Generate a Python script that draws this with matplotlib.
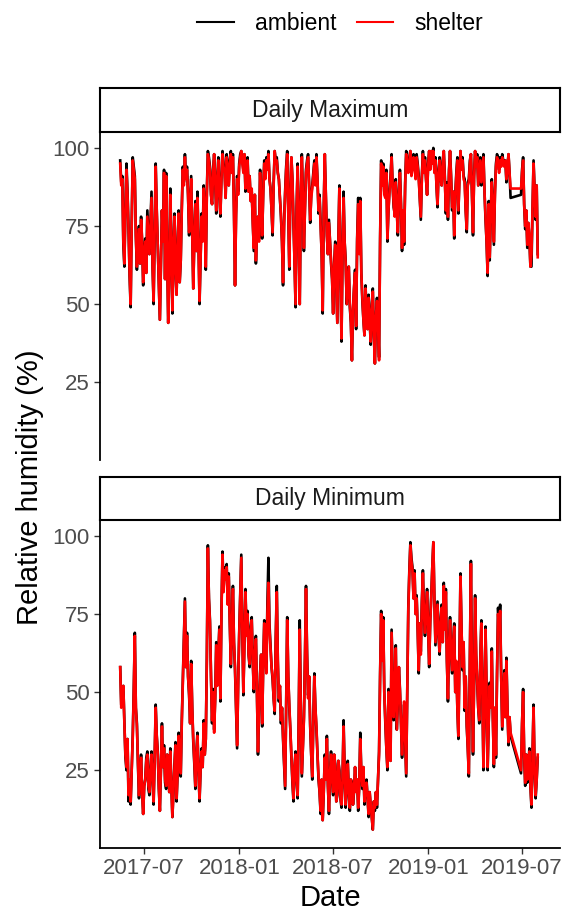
import numpy as np
import pandas as pd
import matplotlib
matplotlib.use("Agg")
import matplotlib.pyplot as plt
import matplotlib.dates as mdates

nan = np.nan

# readings every ~2 days
dates = pd.date_range("2017-05-16", "2019-07-31", periods=401)

max_shelter = [
    95, 88, 90, 70, 63, 80, 93, 85, 74, 60,
    50, 75, 96, 93, 90, 72, 62, 69, 74, 63,
    77, 70, 57, 66, 70, 60, 78, 72, 66, 75,
    84, 62, 51, 72, 94, 80, 68, 55, 45, 62,
    80, 70, 92, 58, 91, 66, 44, 60, 85, 70,
    48, 66, 78, 61, 53, 68, 79, 57, 64, 80,
    93, 88, 97, 90, 93, 85, 73, 81, 90, 72,
    55, 70, 82, 67, 84, 70, 51, 65, 78, 70,
    87, 80, 62, 85, 98, 96, 93, 85, 82, 92,
    98, 90, 80, 88, 96, 85, 79, 90, 98, 94,
    92, 84, 97, 93, 88, 95, 98, 92, 97, 80,
    56, 78, 90, 85, 94, 97, 99, 95, 92, 98,
    87, 92, 96, 86, 91, 83, 87, 76, 68, 85,
    64, 72, 78, 70, 92, 83, 72, 85, 95, 90,
    96, 93, 98, 90, 87, 80, 73, 88, 99, 95,
    96, 92, 90, 84, 79, 70, 57, 75, 85, 93,
    98, 80, 62, 85, 97, 90, 77, 65, 50, 80,
    94, 72, 50, 82, 97, 85, 68, 80, 92, 95,
    97, 88, 77, 84, 87, 91, 95, 88, 97, 90,
    80, 84, 75, 66, 48, 80, 98, 85, 72, 66,
    76, 70, 64, 58, 47, 62, 69, 57, 44, 70,
    87, 60, 39, 66, 84, 70, 63, 50, 56, 62,
    50, 44, 32, 48, 55, 60, 43, 70, 82, 66,
    83, 60, 52, 45, 40, 55, 47, 42, 52, 45,
    38, 48, 54, 40, 31, 46, 51, 44, 32, 70,
    95, 88, 94, 85, 84, 92, 71, 80, 86, 90,
    97, 88, 82, 78, 89, 80, 73, 85, 92, 82,
    68, 80, 70, 88, 98, 94, 92, 96, 99, 91,
    93, 97, 95, 90, 97, 94, 90, 84, 78, 90,
    98, 92, 96, 90, 85, 94, 99, 93, 99, 95,
    99, 92, 96, 88, 82, 92, 96, 90, 88, 95,
    99, 90, 80, 88, 78, 92, 99, 90, 81, 86,
    72, 84, 91, 96, 80, 90, 99, 93, 96, 90,
    89, 80, 74, 88, 89, 95, 98, 85, 73, 90,
    99, 94, 97, 88, 92, 96, 89, 93, 97, 86,
    78, 70, 60, 82, 65, 78, 89, 80, 70, 85,
    94, 97, 96, 92, 96, 94, 97, 95, 94, 96,
    90, 93, 98, 92, 87, nan, nan, nan, nan, nan,
    nan, nan, nan, nan, 87, 92, 96, 82, 75, 80,
    69, 76, 72, 62, 66, 80, 95, 86, 78, 88,
    65,
]
max_ambient = [
    96, 89, 91, 69, 62, 81, 95, 86, 74, 59,
    49, 76, 97, 94, 91, 72, 61, 70, 75, 63,
    78, 70, 56, 67, 71, 60, 80, 73, 66, 76,
    86, 62, 50, 73, 95, 80, 68, 55, 45, 62,
    80, 71, 93, 58, 92, 66, 44, 61, 87, 70,
    47, 66, 79, 61, 53, 69, 80, 57, 64, 81,
    94, 89, 98, 91, 94, 85, 72, 82, 91, 72,
    55, 71, 83, 67, 86, 70, 50, 65, 79, 71,
    88, 80, 61, 86, 99, 97, 94, 85, 82, 93,
    98, 90, 79, 89, 97, 85, 78, 91, 99, 95,
    93, 84, 98, 94, 88, 96, 99, 93, 98, 80,
    56, 79, 91, 86, 95, 98, 99, 96, 93, 98,
    86, 93, 97, 86, 91, 83, 86, 76, 67, 85,
    63, 72, 78, 71, 93, 84, 71, 86, 96, 91,
    97, 94, 99, 90, 87, 80, 72, 89, 99, 96,
    97, 92, 90, 84, 78, 70, 56, 76, 86, 94,
    99, 80, 61, 86, 97, 90, 76, 64, 49, 81,
    95, 72, 50, 83, 98, 85, 67, 81, 93, 96,
    98, 88, 76, 85, 88, 92, 96, 89, 98, 90,
    79, 85, 76, 66, 47, 81, 98, 85, 72, 66,
    77, 70, 63, 58, 47, 63, 70, 57, 44, 71,
    88, 60, 38, 67, 86, 70, 64, 50, 55, 62,
    49, 44, 32, 48, 55, 61, 42, 71, 84, 67,
    84, 60, 51, 45, 40, 56, 48, 42, 53, 45,
    37, 49, 55, 40, 31, 46, 52, 44, 33, 71,
    96, 89, 95, 86, 85, 93, 70, 80, 87, 91,
    98, 88, 81, 79, 90, 80, 72, 86, 93, 82,
    67, 80, 69, 89, 99, 95, 93, 97, 99, 92,
    94, 98, 96, 91, 98, 95, 91, 84, 77, 91,
    99, 93, 97, 90, 85, 95, 99, 94, 99, 96,
    100, 93, 97, 88, 81, 93, 97, 90, 88, 96,
    99, 91, 79, 89, 77, 93, 99, 91, 80, 86,
    71, 85, 92, 97, 79, 91, 99, 94, 97, 91,
    90, 80, 73, 89, 90, 96, 98, 85, 72, 91,
    99, 95, 98, 88, 93, 97, 88, 94, 98, 86,
    77, 70, 59, 83, 64, 79, 90, 80, 69, 86,
    95, 98, 97, 93, 97, 95, 98, 96, 95, 96,
    89, 94, 98, 92, 84, nan, nan, nan, nan, nan,
    nan, nan, nan, nan, 85, 93, 97, 82, 74, 80,
    68, 76, 71, 62, 62, 80, 96, 86, 77, 88,
    66,
]
min_shelter = [
    58, 45, 49, 52, 40, 30, 26, 35, 17, 22,
    15, 25, 35, 50, 68, 45, 39, 28, 17, 24,
    29, 18, 11, 20, 22, 28, 30, 20, 18, 25,
    30, 22, 15, 28, 45, 36, 30, 20, 12, 25,
    39, 26, 32, 22, 20, 30, 27, 18, 31, 20,
    10, 18, 26, 33, 16, 24, 36, 28, 24, 40,
    53, 65, 79, 58, 68, 55, 50, 40, 59, 45,
    35, 28, 20, 30, 36, 25, 16, 25, 31, 26,
    40, 30, 35, 60, 96, 80, 72, 55, 41, 50,
    37, 48, 65, 52, 61, 70, 48, 75, 94, 82,
    89, 86, 90, 78, 87, 72, 59, 70, 83, 66,
    58, 45, 33, 52, 68, 80, 93, 70, 50, 65,
    82, 68, 75, 62, 59, 70, 73, 60, 51, 62,
    67, 50, 31, 44, 55, 62, 40, 58, 72, 62,
    56, 75, 85, 70, 64, 58, 55, 48, 44, 66,
    82, 60, 48, 52, 41, 45, 36, 28, 20, 45,
    73, 55, 46, 38, 30, 22, 16, 26, 30, 22,
    17, 40, 70, 45, 24, 32, 41, 60, 83, 62,
    48, 55, 40, 30, 23, 40, 55, 45, 39, 30,
    23, 18, 12, 22, 9, 18, 29, 22, 35, 20,
    12, 24, 30, 22, 18, 30, 26, 15, 18, 28,
    24, 16, 14, 22, 39, 25, 14, 20, 27, 18,
    13, 22, 20, 14, 19, 26, 18, 22, 13, 20,
    35, 24, 20, 26, 15, 20, 21, 16, 11, 18,
    14, 10, 6, 15, 13, 18, 14, 22, 30, 55,
    75, 60, 73, 50, 41, 32, 26, 50, 36, 28,
    69, 55, 42, 50, 64, 38, 48, 58, 50, 40,
    30, 38, 47, 35, 24, 50, 76, 88, 97, 92,
    89, 80, 88, 75, 80, 70, 57, 72, 62, 78,
    88, 75, 69, 76, 82, 70, 59, 72, 80, 90,
    98, 80, 66, 72, 78, 68, 63, 72, 77, 66,
    84, 70, 82, 60, 48, 65, 73, 62, 57, 66,
    71, 50, 60, 45, 36, 60, 87, 70, 58, 66,
    45, 55, 40, 32, 24, 60, 91, 55, 31, 52,
    80, 62, 54, 45, 41, 60, 72, 48, 26, 45,
    70, 50, 26, 40, 52, 45, 63, 42, 27, 45,
    30, 55, 75, 70, 76, 55, 39, 48, 56, 42,
    60, 45, 34, 42, 37, nan, nan, nan, nan, nan,
    nan, nan, nan, nan, 25, 40, 50, 30, 21, 30,
    22, 26, 31, 20, 14, 30, 45, 25, 17, 22,
    30,
]
min_ambient = [
    58, 46, 50, 52, 41, 29, 25, 35, 15, 21,
    14, 25, 36, 51, 69, 45, 40, 27, 16, 24,
    30, 18, 11, 20, 22, 29, 31, 19, 17, 26,
    31, 22, 14, 29, 46, 36, 31, 19, 12, 25,
    40, 26, 33, 21, 19, 30, 28, 18, 32, 20,
    10, 18, 27, 34, 15, 24, 37, 28, 23, 41,
    54, 66, 80, 58, 69, 55, 49, 40, 60, 45,
    34, 27, 19, 31, 37, 25, 15, 25, 32, 26,
    41, 30, 35, 61, 97, 80, 73, 55, 40, 51,
    38, 48, 66, 53, 62, 71, 47, 76, 95, 83,
    90, 87, 91, 79, 88, 72, 58, 71, 84, 66,
    57, 44, 32, 53, 69, 81, 94, 70, 49, 66,
    83, 69, 76, 62, 58, 71, 74, 60, 50, 63,
    68, 50, 30, 44, 56, 62, 39, 59, 73, 63,
    57, 78, 93, 72, 65, 58, 54, 48, 43, 67,
    84, 60, 47, 52, 40, 45, 35, 27, 19, 46,
    74, 55, 45, 38, 29, 21, 15, 26, 31, 22,
    16, 41, 73, 45, 23, 33, 42, 61, 84, 63,
    49, 55, 39, 30, 22, 41, 56, 45, 38, 30,
    22, 18, 11, 22, 9, 18, 30, 22, 36, 20,
    11, 24, 31, 22, 17, 30, 27, 15, 17, 28,
    25, 16, 13, 22, 41, 25, 13, 20, 28, 18,
    12, 22, 21, 14, 18, 26, 19, 22, 12, 20,
    37, 24, 19, 26, 14, 20, 22, 16, 10, 18,
    13, 10, 6, 15, 12, 18, 13, 22, 31, 56,
    76, 61, 74, 50, 40, 32, 25, 51, 37, 28,
    70, 55, 41, 50, 65, 38, 47, 58, 51, 40,
    29, 38, 46, 35, 23, 51, 77, 89, 98, 93,
    90, 80, 89, 75, 81, 70, 56, 72, 63, 79,
    89, 75, 68, 77, 83, 70, 58, 73, 81, 90,
    98, 80, 65, 72, 79, 68, 62, 73, 78, 66,
    85, 70, 83, 60, 47, 65, 74, 62, 56, 66,
    72, 50, 59, 45, 35, 61, 88, 70, 57, 66,
    44, 55, 39, 32, 23, 61, 92, 55, 30, 52,
    81, 62, 53, 45, 40, 61, 73, 48, 25, 45,
    71, 50, 25, 40, 53, 45, 64, 42, 26, 45,
    29, 56, 77, 71, 78, 55, 38, 48, 57, 42,
    61, 45, 33, 42, 36, nan, nan, nan, nan, nan,
    nan, nan, nan, nan, 24, 40, 51, 30, 20, 30,
    21, 26, 32, 20, 13, 30, 46, 25, 16, 22,
    29,
]

panels = ["Daily Maximum", "Daily Minimum"]
series = {
    "Daily Maximum": {"ambient": max_ambient, "shelter": max_shelter},
    "Daily Minimum": {"ambient": min_ambient, "shelter": min_shelter},
}
colors = {"ambient": "black", "shelter": "#FF0000"}
yticks = [25, 50, 75, 100]

plt.rcParams["font.family"] = ["Liberation Sans", "DejaVu Sans"]

W, H = 565, 913
fig = plt.figure(figsize=(W / 100, H / 100), dpi=100)


def box(x0, y0, x1, y1):
    # pixel box (top-left origin) -> figure fraction rect
    return [x0 / W, 1 - y1 / H, (x1 - x0) / W, (y1 - y0) / H]


panel_boxes = [(100, 132, 560, 460), (100, 520, 560, 848)]
strip_boxes = [(100, 88, 560, 132), (100, 477, 560, 520)]

xmin = pd.Timestamp("2017-04-07")
xmax = pd.Timestamp("2019-09-12")

handles = {}
for k, name in enumerate(panels):
    ax = fig.add_axes(box(*panel_boxes[k]))
    for s in ["ambient", "shelter"]:
        vals = np.array(series[name][s], dtype=float)
        ok = ~np.isnan(vals)
        (ln,) = ax.plot(dates[ok], vals[ok], color=colors[s], lw=1.9)
        handles[s] = ln

    ax.set_xlim(xmin, xmax)
    ax.set_ylim(0.1, 105.1)
    ax.set_yticks(yticks)
    ax.tick_params(axis="both", labelsize=16, labelcolor="#4D4D4D", color="#333333",
                   length=4.5, width=1.0, pad=3)
    for side in ["top", "right"]:
        ax.spines[side].set_visible(False)
    ax.spines["left"].set_linewidth(1.3)
    ax.spines["bottom"].set_linewidth(1.3)
    ax.xaxis.set_major_locator(mdates.MonthLocator(bymonth=[1, 7]))
    ax.xaxis.set_major_formatter(mdates.DateFormatter("%Y-%m"))
    if k == 0:
        ax.spines["bottom"].set_visible(False)
        ax.tick_params(axis="x", bottom=False, labelbottom=False)

    # facet strip
    st = fig.add_axes(box(*strip_boxes[k]))
    st.set_xticks([])
    st.set_yticks([])
    for sp in st.spines.values():
        sp.set_linewidth(1.5)
        sp.set_color("black")
    st.text(0.5, 0.5, name, ha="center", va="center", fontsize=16.5, color="#1A1A1A",
            transform=st.transAxes)

leg = fig.legend(handles=[handles["ambient"], handles["shelter"]], labels=["ambient", "shelter"],
                 loc="center", bbox_to_anchor=(340 / W, 1 - 24 / H), ncol=2, frameon=False,
                 fontsize=16.5, handlelength=1.6, handletextpad=0.9, columnspacing=0.9)
for h in leg.legend_handles:
    h.set_linewidth(1.5)

fig.text(30 / W, 1 - 487 / H, "Relative humidity (%)", rotation=90, fontsize=21,
         ha="center", va="center")
fig.text(330 / W, 1 - 898 / H, "Date", fontsize=21, ha="center", va="center")

fig.savefig("out.png", dpi=100)
